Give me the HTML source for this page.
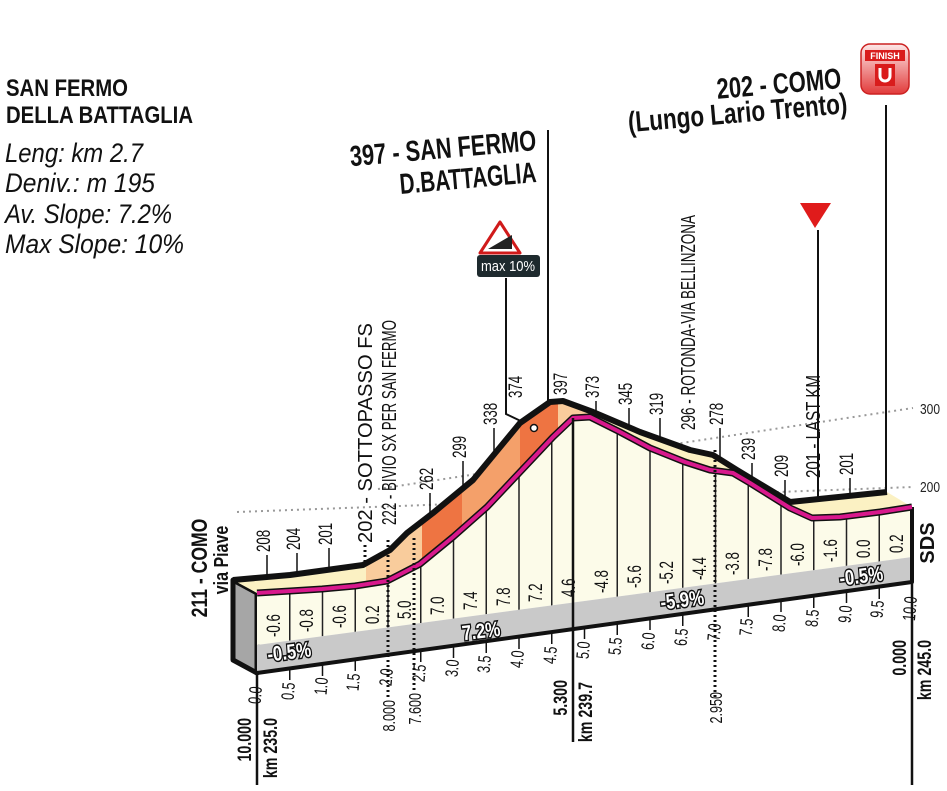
<!DOCTYPE html>
<html><head><meta charset="utf-8"><style>
html,body{margin:0;padding:0;background:#fff}
svg{display:block}
text{font-family:"Liberation Sans",sans-serif}
</style></head><body>
<svg width="947" height="791" viewBox="0 0 947 791" xmlns="http://www.w3.org/2000/svg">
<defs>
<clipPath id="band"><polygon points="233,580 290,575 363,565 390,550 407,533 433,513 473,480 520,423 550,402 563,401 593,412 640,432 690,450 713,455 737,470 790,502 887,492 912,507 880,512 840,517 812,518 790,508 750,483 733,473 710,470 685,462 650,448 620,432 590,417 573,418 553,437 520,472 487,507 453,537 420,564 387,581 355,586 322,589 290,591 257,593"/></clipPath>
<clipPath id="front"><polygon points="257,593 290,591 322,589 355,586 387,581 420,564 453,537 487,507 520,472 553,437 573,418 590,417 620,432 650,448 685,462 710,470 733,473 750,483 790,508 812,518 840,517 880,512 912,507 912,557 257,645"/></clipPath>
<linearGradient id="fin" x1="0" y1="0" x2="0" y2="1"><stop offset="0" stop-color="#fde8e8"/><stop offset="1" stop-color="#e23a3a"/></linearGradient>
</defs>

<!-- top-left info -->
<g font-weight="bold" font-size="24" fill="#111">
<text x="6" y="96" textLength="122" lengthAdjust="spacingAndGlyphs">SAN FERMO</text>
<text x="6" y="123" textLength="187" lengthAdjust="spacingAndGlyphs">DELLA BATTAGLIA</text>
</g>
<g font-style="italic" font-size="27" fill="#111">
<text x="5" y="162" textLength="138" lengthAdjust="spacingAndGlyphs">Leng: km 2.7</text>
<text x="5" y="192" textLength="150" lengthAdjust="spacingAndGlyphs">Deniv.: m 195</text>
<text x="5" y="223" textLength="167" lengthAdjust="spacingAndGlyphs">Av. Slope:  7.2%</text>
<text x="5" y="253" textLength="179" lengthAdjust="spacingAndGlyphs">Max Slope:  10%</text>
</g>

<!-- titles -->
<g font-weight="bold" font-size="29" fill="#111">
<text transform="translate(537,150) rotate(-5)" text-anchor="end" textLength="187" lengthAdjust="spacingAndGlyphs">397 - SAN FERMO</text>
<text transform="translate(537,182) rotate(-5)" text-anchor="end" textLength="137" lengthAdjust="spacingAndGlyphs">D.BATTAGLIA</text>
<text transform="translate(842,88) rotate(-5)" text-anchor="end" textLength="125" lengthAdjust="spacingAndGlyphs">202 - COMO</text>
<text transform="translate(848,113) rotate(-5)" text-anchor="end" textLength="220" lengthAdjust="spacingAndGlyphs">(Lungo Lario Trento)</text>
</g>

<!-- finish icon -->
<rect x="861" y="44" width="48" height="50" rx="9" fill="url(#fin)" stroke="#c22" stroke-width="1.5"/>
<rect x="865" y="50" width="40" height="11" fill="#d91c1c"/>
<text x="885" y="59" font-size="9" font-weight="bold" fill="#fff" text-anchor="middle">FINISH</text>
<rect x="875" y="64" width="20" height="22" fill="#d91c1c"/>
<path d="M880,68 v8 a5,5 0 0 0 10,0 v-8" fill="none" stroke="#fff" stroke-width="3"/>

<!-- dotted reference lines -->
<line x1="237" y1="512" x2="913" y2="487" stroke="#999" stroke-width="2" stroke-dasharray="2,4"/>
<line x1="378" y1="489" x2="913" y2="408" stroke="#999" stroke-width="2" stroke-dasharray="2,4"/>
<text font-size="15" fill="#222" transform="translate(920,414) scale(0.8,1)">300</text>
<text font-size="15" fill="#222" transform="translate(920,492) scale(0.8,1)">200</text>

<!-- vertical marker lines -->
<g stroke="#111" stroke-width="2">
<line x1="548" y1="130" x2="548" y2="402"/>
<line x1="886" y1="105" x2="886" y2="493"/>
<line x1="818" y1="230" x2="818" y2="505"/>
<polyline points="506,278 506,414 527,424" fill="none"/>
</g>
<polygon points="800,203 831,203 815,228" fill="#e01b1b"/>
<!-- max 10% -->
<polygon points="500,222 520,253 480,253" fill="#fff" stroke="#d01a1a" stroke-width="3" stroke-linejoin="round"/>
<polygon points="488,249 512,249 512,235" fill="#222"/>
<rect x="477" y="255" width="63" height="22" rx="3" fill="#1e2a2e"/>
<text x="508" y="271" font-size="15" fill="#fff" text-anchor="middle" textLength="54" lengthAdjust="spacingAndGlyphs">max 10%</text>

<!-- left side face -->
<polygon points="233,580 257,593 257,673 233,660" fill="#a6a6a6" stroke="#111" stroke-width="5" stroke-linejoin="round"/>
<!-- front face -->
<polygon points="257,593 290,591 322,589 355,586 387,581 420,564 453,537 487,507 520,472 553,437 573,418 590,417 620,432 650,448 685,462 710,470 733,473 750,483 790,508 812,518 840,517 880,512 912,507 912,557 257,645" fill="#fcfbe9"/>
<g clip-path="url(#front)" stroke="#222" stroke-width="1.5">
<line x1="289.75" y1="400" x2="289.75" y2="660"/><line x1="322.5" y1="400" x2="322.5" y2="660"/><line x1="355.25" y1="400" x2="355.25" y2="660"/><line x1="388" y1="400" x2="388" y2="660"/><line x1="420.75" y1="400" x2="420.75" y2="660"/><line x1="453.5" y1="400" x2="453.5" y2="660"/><line x1="486.25" y1="400" x2="486.25" y2="660"/><line x1="519" y1="400" x2="519" y2="660"/><line x1="551.75" y1="400" x2="551.75" y2="660"/><line x1="617.25" y1="400" x2="617.25" y2="660"/><line x1="650" y1="400" x2="650" y2="660"/><line x1="682.75" y1="400" x2="682.75" y2="660"/><line x1="715.5" y1="400" x2="715.5" y2="660"/><line x1="748.25" y1="400" x2="748.25" y2="660"/><line x1="781" y1="400" x2="781" y2="660"/><line x1="813.75" y1="400" x2="813.75" y2="660"/><line x1="846.5" y1="400" x2="846.5" y2="660"/><line x1="879.25" y1="400" x2="879.25" y2="660"/>
</g>
<!-- gray band -->
<polygon points="257,645 912,557 912,582 257,673" fill="#c9c9c9"/>
<polyline points="233,660 257,673 912,582 912,507" fill="none" stroke="#111" stroke-width="4" stroke-linejoin="round"/>

<!-- top band -->
<polygon points="233,580 290,575 363,565 390,550 407,533 433,513 473,480 520,423 550,402 563,401 593,412 640,432 690,450 713,455 737,470 790,502 887,492 912,507 880,512 840,517 812,518 790,508 750,483 733,473 710,470 685,462 650,448 620,432 590,417 573,418 553,437 520,472 487,507 453,537 420,564 387,581 355,586 322,589 290,591 257,593" fill="#fbf1c3"/>
<g clip-path="url(#band)">
<rect x="366" y="380" width="56" height="220" fill="#f9cc9c"/>
<rect x="422" y="380" width="40" height="220" fill="#ee7442"/>
<rect x="462" y="380" width="58" height="220" fill="#f4a06a"/>
<rect x="520" y="380" width="38" height="220" fill="#ee7442"/>
<rect x="558" y="380" width="30" height="220" fill="#f9cc9c"/>
</g>
<polyline points="233,580 290,575 363,565 390,550 407,533 433,513 473,480 520,423 550,402 563,401 593,412 640,432 690,450 713,455 737,470 790,502 887,492" fill="none" stroke="#111" stroke-width="6" stroke-linejoin="round"/>
<polyline points="257,593 290,591 322,589 355,586 387,581 420,564 453,537 487,507 520,472 553,437 573,418 590,417 620,432 650,448 685,462 710,470 733,473 750,483 790,508 812,518 840,517 880,512 912,507" fill="none" stroke="#111" stroke-width="7" stroke-linejoin="round"/>
<polyline points="257,593 290,591 322,589 355,586 387,581 420,564 453,537 487,507 520,472 553,437 573,418 590,417 620,432 650,448 685,462 710,470 733,473 750,483 790,508 812,518 840,517 880,512 912,507" fill="none" stroke="#d8188c" stroke-width="4" stroke-linejoin="round"/>
<circle cx="534" cy="428" r="3.5" fill="#fff" stroke="#111" stroke-width="1.5"/>

<!-- long bottom lines and dotted -->
<g stroke="#111" stroke-width="2.5">
<line x1="257" y1="673" x2="257" y2="785"/>
<line x1="573" y1="418" x2="573" y2="742"/>
<line x1="912" y1="582" x2="912" y2="785"/>
</g>
<g stroke="#111" stroke-width="3" stroke-dasharray="2,3">
<line x1="388" y1="540" x2="388" y2="700"/>
<line x1="414" y1="538" x2="414" y2="690"/>
<line x1="715" y1="450" x2="715" y2="700"/>
<line x1="365" y1="545" x2="365" y2="562"/>
</g>

<!-- height ticks -->
<g stroke="#111" stroke-width="1.5">
<line x1="267" y1="555" x2="267" y2="578"/><line x1="297" y1="553" x2="297" y2="574"/><line x1="329" y1="548" x2="329" y2="570"/><line x1="430" y1="493" x2="430" y2="515"/><line x1="463" y1="461" x2="463" y2="488"/><line x1="494" y1="428" x2="494" y2="457"/><line x1="596" y1="401" x2="596" y2="413"/><line x1="629" y1="408" x2="629" y2="427"/><line x1="660" y1="418" x2="660" y2="441"/><line x1="720" y1="428" x2="720" y2="459"/><line x1="752" y1="463" x2="752" y2="479"/><line x1="785" y1="480" x2="785" y2="499"/><line x1="850" y1="478" x2="850" y2="497"/>
</g>

<!-- height labels -->
<g font-size="19" fill="#111">
<text transform="translate(270,552) rotate(-90) scale(0.7,1)">208</text>
<text transform="translate(300,550) rotate(-90) scale(0.7,1)">204</text>
<text transform="translate(332,545) rotate(-90) scale(0.7,1)">201</text>
<text transform="translate(372,543) rotate(-90)" font-size="20" textLength="220" lengthAdjust="spacingAndGlyphs">202 - SOTTOPASSO FS</text>
<text transform="translate(396,525) rotate(-90)" font-size="20" textLength="205" lengthAdjust="spacingAndGlyphs">222 - BIVIO SX PER SAN FERMO</text>
<text transform="translate(433,490) rotate(-90) scale(0.7,1)">262</text>
<text transform="translate(466,458) rotate(-90) scale(0.7,1)">299</text>
<text transform="translate(497,425) rotate(-90) scale(0.7,1)">338</text>
<text transform="translate(522,398) rotate(-90) scale(0.7,1)">374</text>
<text transform="translate(567,395) rotate(-90) scale(0.7,1)">397</text>
<text transform="translate(599,398) rotate(-90) scale(0.7,1)">373</text>
<text transform="translate(632,405) rotate(-90) scale(0.7,1)">345</text>
<text transform="translate(663,415) rotate(-90) scale(0.7,1)">319</text>
<text transform="translate(695,430) rotate(-90)" font-size="20" textLength="215" lengthAdjust="spacingAndGlyphs">296 - ROTONDA-VIA BELLINZONA</text>
<text transform="translate(723,425) rotate(-90) scale(0.7,1)">278</text>
<text transform="translate(755,460) rotate(-90) scale(0.7,1)">239</text>
<text transform="translate(788,477) rotate(-90) scale(0.7,1)">209</text>
<text transform="translate(820,478) rotate(-90)" font-size="20" textLength="103" lengthAdjust="spacingAndGlyphs">201 - LAST KM</text>
<text transform="translate(853,475) rotate(-90) scale(0.7,1)">201</text>
</g>

<!-- percent labels on front face -->
<g font-size="19" fill="#111">
<text transform="translate(280,637) rotate(-90) scale(0.7,1)">-0.6</text>
<text transform="translate(313,632) rotate(-90) scale(0.7,1)">-0.8</text>
<text transform="translate(346,628) rotate(-90) scale(0.7,1)">-0.6</text>
<text transform="translate(379,624) rotate(-90) scale(0.7,1)">0.2</text>
<text transform="translate(411,619) rotate(-90) scale(0.7,1)">5.0</text>
<text transform="translate(444,615) rotate(-90) scale(0.7,1)">7.0</text>
<text transform="translate(477,610) rotate(-90) scale(0.7,1)">7.4</text>
<text transform="translate(510,606) rotate(-90) scale(0.7,1)">7.8</text>
<text transform="translate(542,602) rotate(-90) scale(0.7,1)">7.2</text>
<text transform="translate(575,597) rotate(-90) scale(0.7,1)">4.6</text>
<text transform="translate(608,593) rotate(-90) scale(0.7,1)">-4.8</text>
<text transform="translate(641,588) rotate(-90) scale(0.7,1)">-5.6</text>
<text transform="translate(673,584) rotate(-90) scale(0.7,1)">-5.2</text>
<text transform="translate(706,580) rotate(-90) scale(0.7,1)">-4.4</text>
<text transform="translate(739,575) rotate(-90) scale(0.7,1)">-3.8</text>
<text transform="translate(772,571) rotate(-90) scale(0.7,1)">-7.8</text>
<text transform="translate(804,566) rotate(-90) scale(0.7,1)">-6.0</text>
<text transform="translate(837,562) rotate(-90) scale(0.7,1)">-1.6</text>
<text transform="translate(870,558) rotate(-90) scale(0.7,1)">0.0</text>
<text transform="translate(903,553) rotate(-90) scale(0.7,1)">0.2</text>
</g>

<!-- gray band percent labels -->
<g font-size="21" font-weight="bold" fill="#fff" stroke="#111" stroke-width="3" paint-order="stroke" text-anchor="middle">
<text transform="translate(290,659) rotate(-7) scale(0.8,1)">-0.5%</text>
<text transform="translate(482,638) rotate(-7) scale(0.8,1)">7.2%</text>
<text transform="translate(683,607) rotate(-7) scale(0.8,1)">-5.9%</text>
<text transform="translate(862,583) rotate(-7) scale(0.8,1)">-0.5%</text>
</g>

<!-- km ticks -->
<g stroke="#111" stroke-width="1.5">
<line x1="289.75" y1="668" x2="289.75" y2="680"/><line x1="322.5" y1="664" x2="322.5" y2="676"/><line x1="355.25" y1="659" x2="355.25" y2="671"/><line x1="420.75" y1="650" x2="420.75" y2="662"/><line x1="453.5" y1="646" x2="453.5" y2="658"/><line x1="486.25" y1="641" x2="486.25" y2="653"/><line x1="519" y1="637" x2="519" y2="649"/><line x1="551.75" y1="632" x2="551.75" y2="644"/><line x1="584.5" y1="627" x2="584.5" y2="639"/><line x1="617.25" y1="623" x2="617.25" y2="635"/><line x1="650" y1="618" x2="650" y2="630"/><line x1="682.75" y1="614" x2="682.75" y2="626"/><line x1="748.25" y1="605" x2="748.25" y2="617"/><line x1="781" y1="600" x2="781" y2="612"/><line x1="813.75" y1="596" x2="813.75" y2="608"/><line x1="846.5" y1="591" x2="846.5" y2="603"/><line x1="879.25" y1="587" x2="879.25" y2="599"/>
</g>
<g font-size="18" fill="#111" text-anchor="end">
<text transform="translate(262,687) rotate(-85) scale(0.7,1)">0.0</text>
<text transform="translate(295,683) rotate(-85) scale(0.7,1)">0.5</text>
<text transform="translate(328,678) rotate(-85) scale(0.7,1)">1.0</text>
<text transform="translate(360,674) rotate(-85) scale(0.7,1)">1.5</text>
<text transform="translate(393,669) rotate(-85) scale(0.7,1)">2.0</text>
<text transform="translate(426,665) rotate(-85) scale(0.7,1)">2.5</text>
<text transform="translate(459,660) rotate(-85) scale(0.7,1)">3.0</text>
<text transform="translate(491,656) rotate(-85) scale(0.7,1)">3.5</text>
<text transform="translate(524,651) rotate(-85) scale(0.7,1)">4.0</text>
<text transform="translate(557,647) rotate(-85) scale(0.7,1)">4.5</text>
<text transform="translate(590,642) rotate(-85) scale(0.7,1)">5.0</text>
<text transform="translate(622,638) rotate(-85) scale(0.7,1)">5.5</text>
<text transform="translate(655,633) rotate(-85) scale(0.7,1)">6.0</text>
<text transform="translate(688,629) rotate(-85) scale(0.7,1)">6.5</text>
<text transform="translate(721,624) rotate(-85) scale(0.7,1)">7.0</text>
<text transform="translate(753,619) rotate(-85) scale(0.7,1)">7.5</text>
<text transform="translate(786,615) rotate(-85) scale(0.7,1)">8.0</text>
<text transform="translate(819,610) rotate(-85) scale(0.7,1)">8.5</text>
<text transform="translate(852,606) rotate(-85) scale(0.7,1)">9.0</text>
<text transform="translate(884,601) rotate(-85) scale(0.7,1)">9.5</text>
<text transform="translate(917,597) rotate(-85) scale(0.7,1)">10.0</text>
</g>

<!-- bottom distance labels -->
<g font-size="19" font-weight="bold" fill="#111" text-anchor="end">
<text transform="translate(251,718) rotate(-90) scale(0.75,1)">10.000</text>
<text transform="translate(277,718) rotate(-90) scale(0.75,1)">km 235.0</text>
<text transform="translate(567,680) rotate(-90) scale(0.75,1)">5.300</text>
<text transform="translate(592,682) rotate(-90) scale(0.75,1)">km 239.7</text>
<text transform="translate(906,640) rotate(-90) scale(0.75,1)">0.000</text>
<text transform="translate(931,640) rotate(-90) scale(0.75,1)">km 245.0</text>
</g>
<g font-size="18" fill="#111" text-anchor="end">
<text transform="translate(395,700) rotate(-90) scale(0.7,1)">8.000</text>
<text transform="translate(421,693) rotate(-90) scale(0.7,1)">7.600</text>
<text transform="translate(722,692) rotate(-90) scale(0.7,1)">2.950</text>
</g>

<!-- left & right side labels -->
<g font-weight="bold" fill="#111" text-anchor="middle">
<text transform="translate(207,568) rotate(-90) scale(0.8,1)" font-size="22">211 - COMO</text>
<text transform="translate(228,560) rotate(-90) scale(0.8,1)" font-size="20">via Piave</text>
<text transform="translate(934,543) rotate(-90)" font-size="20">SDS</text>
</g>
</svg>
</body></html>
